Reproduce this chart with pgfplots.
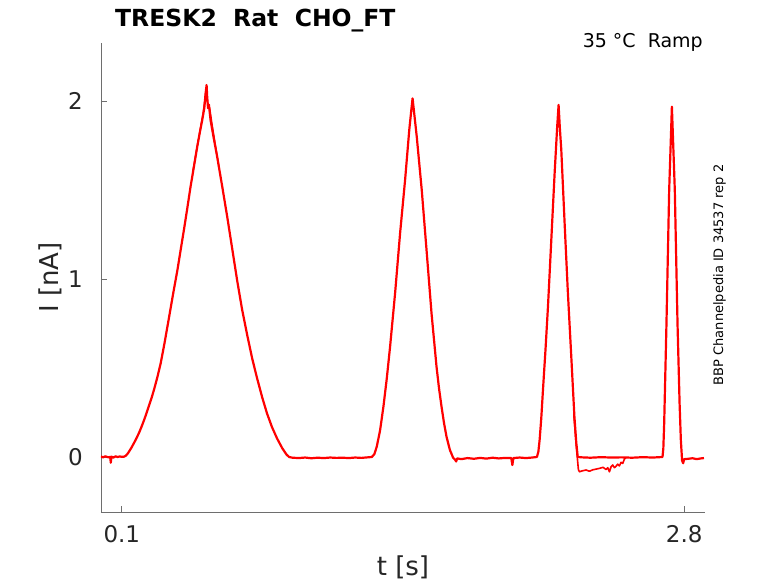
\documentclass[border=0pt]{standalone}
\usepackage{fontspec}
\setmainfont{DejaVu Sans}
\usepackage{pgfplots}
\pgfplotsset{compat=1.18}
\definecolor{axgray}{RGB}{110,110,110}
\definecolor{txt}{RGB}{38,38,38}
\begin{document}
\begin{tikzpicture}[x=1pt,y=1pt]
\path[use as bounding box] (-101,-71) rectangle (677,512);
\begin{axis}[
  at={(0,0)}, anchor=south west,
  scale only axis, width=604pt, height=469pt,
  xmin=0, xmax=2.9, ymin=-0.309, ymax=2.326,
  axis x line*=bottom, axis y line*=left,
  axis line style={axgray, line width=0.8pt},
  xtick={0.1,2.8}, xticklabels={0.1,2.8}, ytick={0,1,2},
  tick align=inside, major tick length=6pt,
  tick style={axgray, line width=0.8pt},
  ticklabel style={font=\fontsize{23}{23}\selectfont, text=txt, inner sep=0pt},
  /pgf/number format/assume math mode=true,
  xticklabel style={anchor=base, yshift=-30.3pt},
  yticklabel style={anchor=east, xshift=-18pt},
]
\addplot[red, line width=2.2pt, line join=round] coordinates {
(0.000,0.003) (0.010,-0.002) (0.020,0.004) (0.030,0.000) (0.038,-0.002)
(0.044,0.001) (0.047,-0.032) (0.050,0.002) (0.060,-0.003) (0.070,0.004)
(0.080,0.000) (0.090,0.003) (0.100,0.001) (0.111,0.002)
(0.120,0.008) (0.130,0.022) (0.145,0.050) (0.159,0.080) (0.171,0.107)
(0.183,0.137) (0.195,0.171) (0.207,0.208) (0.219,0.248) (0.231,0.290)
(0.243,0.333) (0.255,0.380) (0.271,0.450) (0.287,0.529) (0.305,0.640)
(0.326,0.780) (0.346,0.915) (0.367,1.051) (0.382,1.160) (0.398,1.275)
(0.414,1.395) (0.430,1.519) (0.446,1.630) (0.462,1.743) (0.474,1.820)
(0.486,1.893) (0.496,1.960) (0.502,2.040) (0.507,2.090) (0.510,2.020)
(0.514,1.960) (0.518,1.980) (0.526,1.893) (0.540,1.800) (0.558,1.685)
(0.582,1.520) (0.606,1.350) (0.630,1.170) (0.654,0.990) (0.678,0.825)
(0.702,0.685) (0.726,0.553) (0.750,0.440) (0.774,0.335) (0.797,0.245)
(0.821,0.168) (0.845,0.105) (0.870,0.050) (0.890,0.015) (0.903,0.000)
(0.920,-0.004) (0.950,-0.006) (0.980,-0.003) (1.010,-0.007) (1.040,-0.004)
(1.070,-0.006) (1.100,-0.003) (1.130,-0.005) (1.160,-0.004) (1.190,-0.006)
(1.220,-0.003) (1.250,-0.005) (1.280,-0.002) (1.300,0.000)
(1.312,0.015) (1.324,0.058) (1.340,0.150) (1.356,0.283) (1.372,0.440)
(1.388,0.620) (1.412,0.920) (1.436,1.257) (1.460,1.556) (1.480,1.837)
(1.490,1.950) (1.496,2.015) (1.502,1.950) (1.516,1.800) (1.540,1.500)
(1.563,1.163) (1.587,0.807) (1.611,0.507) (1.623,0.385) (1.635,0.283)
(1.647,0.190) (1.659,0.114) (1.675,0.040) (1.691,-0.005)
(1.700,-0.015) (1.705,-0.025) (1.710,-0.008) (1.730,-0.012) (1.760,-0.006)
(1.790,-0.010) (1.820,-0.005) (1.850,-0.009) (1.880,-0.004) (1.910,-0.008)
(1.940,-0.005) (1.970,-0.006) (1.975,-0.045) (1.980,-0.006) (2.010,-0.003)
(2.040,-0.006) (2.070,-0.003) (2.093,0.000)
(2.100,0.030) (2.106,0.096) (2.114,0.220) (2.122,0.376) (2.134,0.600)
(2.146,0.844) (2.162,1.219) (2.178,1.594) (2.190,1.850) (2.197,1.978)
(2.203,1.850) (2.210,1.725) (2.226,1.313) (2.241,0.938) (2.258,0.563)
(2.273,0.226) (2.282,0.080) (2.289,0.000)
(2.310,-0.002) (2.350,-0.004) (2.400,-0.001) (2.450,-0.003) (2.500,-0.002)
(2.550,-0.004) (2.600,-0.001) (2.650,-0.003) (2.696,0.000)
(2.700,0.050) (2.704,0.189) (2.715,0.751) (2.728,1.500) (2.741,1.968)
(2.755,1.500) (2.768,0.751) (2.778,0.300) (2.784,0.096) (2.790,-0.020)
(2.795,-0.035) (2.800,-0.012) (2.820,-0.010) (2.840,-0.007) (2.860,-0.012)
(2.880,-0.008) (2.895,-0.006)
};
\addplot[red, line width=1.6pt, line join=round] coordinates {
(2.270,0.240) (2.282,0.060) (2.292,-0.070) (2.297,-0.083) (2.310,-0.078)
(2.329,-0.073) (2.345,-0.080) (2.361,-0.072) (2.377,-0.068) (2.393,-0.064)
(2.410,-0.058) (2.425,-0.070) (2.433,-0.060) (2.441,-0.083) (2.449,-0.055)
(2.457,-0.045) (2.465,-0.060) (2.473,-0.052) (2.481,-0.040) (2.489,-0.050)
(2.497,-0.030) (2.505,-0.036) (2.513,-0.012) (2.520,-0.004)
};
\addplot[red, line width=1.4pt, line join=round] coordinates {
(0.440,1.600) (0.470,1.800) (0.490,1.930) (0.500,2.020) (0.505,2.070)
(0.512,1.990) (0.522,1.960) (0.532,1.880) (0.548,1.760) (0.565,1.640)
};
\end{axis}
\node[anchor=base west, font=\bfseries\fontsize{23.5}{23.5}\selectfont, inner sep=0pt] at (14,485.3) {TRESK2\ \ Rat\ \ CHO\_FT};
\node[anchor=base east, font=\fontsize{19}{19}\selectfont, inner sep=0pt] at (602,464.7) {35 °C\ \ Ramp};
\node[rotate=90, anchor=base, font=\fontsize{13}{13}\selectfont, inner sep=0pt] at (622,237) {BBP Channelpedia ID 34537 rep 2};
\node[anchor=base, font=\fontsize{26}{26}\selectfont, text=txt, inner sep=0pt] at (302,-63.7) {t [s]};
\node[rotate=90, anchor=base, font=\fontsize{26}{26}\selectfont, text=txt, inner sep=0pt] at (-42.7,234.5) {I [nA]};
\end{tikzpicture}
\end{document}
